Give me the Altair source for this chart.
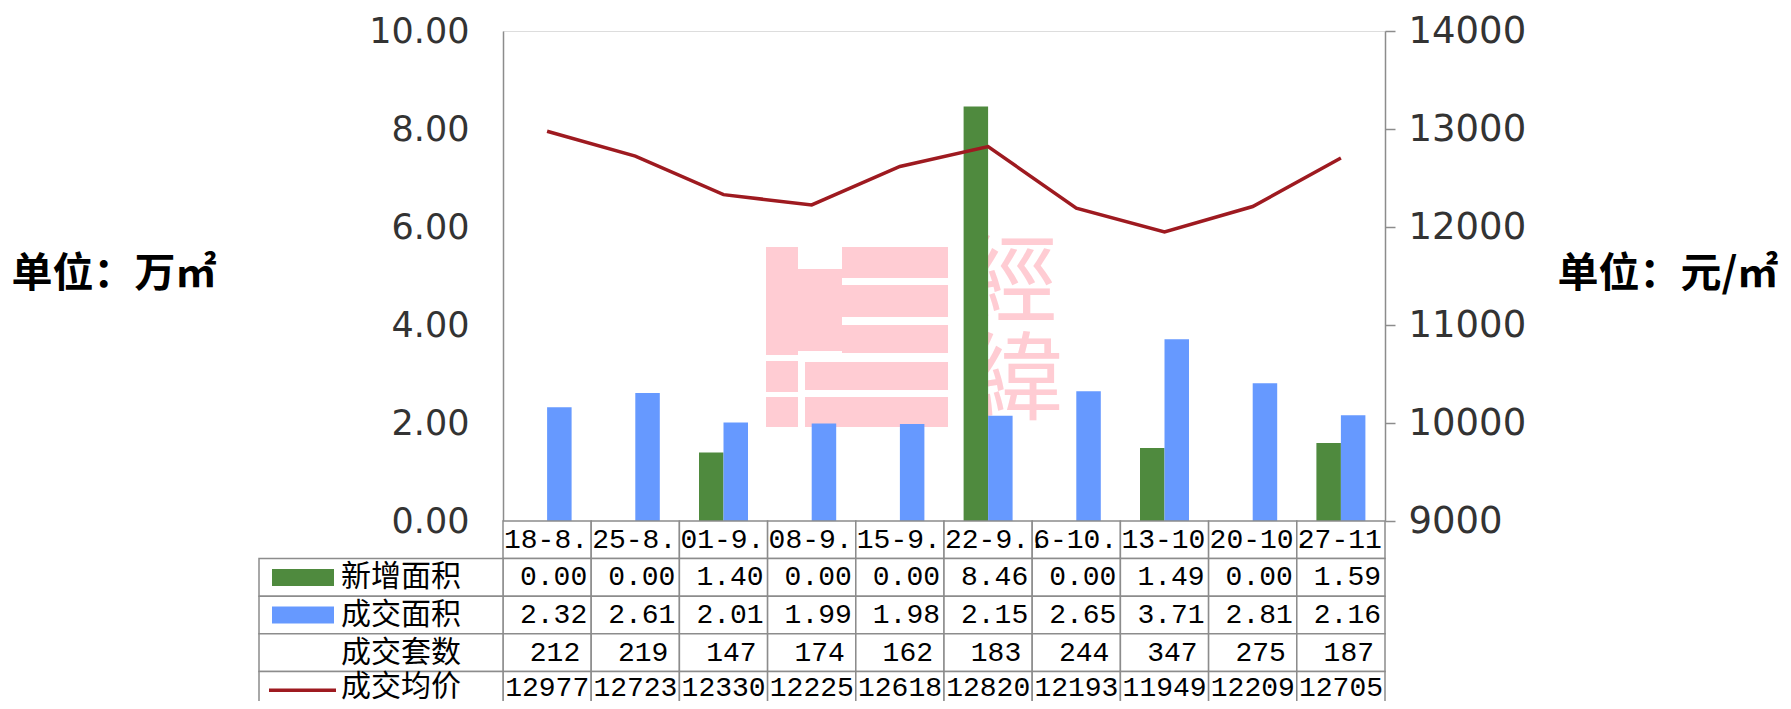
import altair as alt
import pandas as pd

# ---- data ----
cats = ["18-8.", "25-8.", "01-9.", "08-9.", "15-9.", "22-9..", "6-10.", "13-10", "20-10.", "27-11"]
new_area = [0.00, 0.00, 1.40, 0.00, 0.00, 8.46, 0.00, 1.49, 0.00, 1.59]
deal_area = [2.32, 2.61, 2.01, 1.99, 1.98, 2.15, 2.65, 3.71, 2.81, 2.16]
deal_units = [212, 219, 147, 174, 162, 183, 244, 347, 275, 187]
avg_price = [12977, 12723, 12330, 12225, 12618, 12820, 12193, 11949, 12209, 12705]
series_names = ["新增面积", "成交面积", "成交套数", "成交均价"]
left_ticks = [0, 2, 4, 6, 8, 10]
right_ticks = [9000, 10000, 11000, 12000, 13000, 14000]

GREEN = "#4F8A3E"
BLUE = "#6699FF"
RED = "#9E1A20"
GRID = "#8c8c8c"
PINK = "#FFCCD3"

W, H = 882, 490

# ---- tables ----
bars_df = pd.DataFrame(
    [{"cat": c, "series": series_names[0], "value": v} for c, v in zip(cats, new_area)]
    + [{"cat": c, "series": series_names[1], "value": v} for c, v in zip(cats, deal_area)]
)
line_df = pd.DataFrame({"cat": cats, "price": avg_price})

rows_all = ["cat"] + series_names
table_rows = []
for i, c in enumerate(cats):
    table_rows.append({"cat": c, "row": "cat", "txt": c})
    table_rows.append({"cat": c, "row": series_names[0], "txt": f"{new_area[i]:.2f}"})
    table_rows.append({"cat": c, "row": series_names[1], "txt": f"{deal_area[i]:.2f}"})
    table_rows.append({"cat": c, "row": series_names[2], "txt": str(deal_units[i])})
    table_rows.append({"cat": c, "row": series_names[3], "txt": str(avg_price[i])})
table_df = pd.DataFrame(table_rows)
legend_df = pd.DataFrame({"row": series_names})

band = alt.Scale(domain=cats, paddingInner=0, paddingOuter=0)
x_enc = alt.X("cat:N", sort=cats, scale=band, axis=None)

# ---- bars ----
bars = alt.Chart(bars_df).mark_bar().encode(
    x=x_enc,
    xOffset=alt.XOffset("series:N", sort=series_names[:2],
                        scale=alt.Scale(domain=series_names[:2], paddingInner=0, paddingOuter=0.8)),
    y=alt.Y("value:Q", scale=alt.Scale(domain=[0, 10], nice=False),
            axis=alt.Axis(orient="left", values=left_ticks, format=".2f",
                          labelFont="DejaVu Sans", labelFontSize=35, labelColor="#333333",
                          ticks=False, tickSize=0, labelPadding=34,
                          domainColor=GRID, domainWidth=1.5, grid=False,
                          title="单位：万㎡", titleAngle=0, titleFont="Noto Sans CJK SC",
                          titleFontSize=41, titleFontWeight="bold", titleColor="#000000",
                          titleAlign="left", titleBaseline="middle", titleX=-492, titleY=243)),
    color=alt.Color("series:N", scale=alt.Scale(domain=series_names[:2], range=[GREEN, BLUE]),
                    legend=None),
)

# ---- line ----
line = alt.Chart(line_df).mark_line(color=RED, strokeWidth=3.5).encode(
    x=x_enc,
    y=alt.Y("price:Q", scale=alt.Scale(domain=[9000, 14000], nice=False),
            axis=alt.Axis(orient="right", values=right_ticks, format="d",
                          labelFont="DejaVu Sans", labelFontSize=37, labelColor="#333333",
                          tickSize=10, tickColor=GRID, tickWidth=1.5, labelPadding=13,
                          domainColor=GRID, domainWidth=1.5, grid=False,
                          title="单位：元/㎡", titleAngle=0, titleFont="Noto Sans CJK SC",
                          titleFontSize=41, titleFontWeight="bold", titleColor="#000000",
                          titleAlign="left", titleBaseline="middle", titleX=172, titleY=243)),
)

# ---- data table under the plot ----
y_row = alt.Y("row:N", sort=rows_all,
              scale=alt.Scale(domain=rows_all, range=[H, H + 188], paddingInner=0, paddingOuter=0),
              axis=None)

base_t = alt.Chart(table_df)
cells = base_t.mark_rect(fill="white", stroke=GRID, strokeWidth=1.5).encode(x=x_enc, y=y_row)

leg_cells = alt.Chart(legend_df).mark_rect(fill="white", stroke=GRID, strokeWidth=1.5).encode(
    x=alt.value(-244), x2=alt.value(0), y=y_row)

mono = dict(font="Liberation Mono", fontSize=28, color="#000000", baseline="middle")
x_left = alt.X("cat:N", sort=cats, bandPosition=0, scale=band, axis=None)
x_right = alt.X("cat:N", sort=cats, bandPosition=1, scale=band, axis=None)

cat_txt = base_t.transform_filter(alt.datum.row == "cat").mark_text(
    align="left", dx=1, **mono).encode(x=x_left, y=y_row, text="txt:N")
area_txt = base_t.transform_filter(
    (alt.datum.row == series_names[0]) | (alt.datum.row == series_names[1])
).mark_text(align="right", dx=-4, **mono).encode(x=x_right, y=y_row, text="txt:N")
units_txt = base_t.transform_filter(alt.datum.row == series_names[2]).mark_text(
    align="right", dx=-11, **mono).encode(x=x_right, y=y_row, text="txt:N")
price_txt = base_t.transform_filter(alt.datum.row == series_names[3]).mark_text(
    align="right", dx=-2, dy=-2, font="Liberation Mono", fontSize=28, color="#000000",
    baseline="middle").encode(x=x_right, y=y_row, text="txt:N")

leg_txt = alt.Chart(legend_df).transform_filter(alt.datum.row != series_names[3]).mark_text(
    align="left", baseline="middle", font="Noto Sans CJK SC", fontSize=30, color="#000000"
).encode(x=alt.value(-162), y=y_row, text="row:N")
leg_txt_last = alt.Chart(legend_df).transform_filter(alt.datum.row == series_names[3]).mark_text(
    align="left", baseline="middle", font="Noto Sans CJK SC", fontSize=30, color="#000000", dy=-3
).encode(x=alt.value(-162), y=y_row, text="row:N")

swatch = alt.Chart(legend_df).transform_filter(
    (alt.datum.row == series_names[0]) | (alt.datum.row == series_names[1])
).mark_rule(strokeWidth=17, strokeCap="butt").encode(
    x=alt.value(-231), x2=alt.value(-169), y=y_row,
    color=alt.Color("row:N", scale=alt.Scale(domain=series_names[:2], range=[GREEN, BLUE]),
                    legend=None))
red_sw = alt.Chart(legend_df).transform_filter(alt.datum.row == series_names[3]).mark_rule(
    strokeWidth=3.5, color=RED, strokeCap="butt").encode(
    x=alt.value(-234), x2=alt.value(-167), y=y_row)

table = alt.layer(cells, leg_cells, cat_txt, area_txt, units_txt, price_txt,
                  leg_txt, leg_txt_last, swatch, red_sw)

# ---- pale watermark (decoration) ----
wm_txt1 = alt.Chart(pd.DataFrame({"ch": ["經"]})).mark_text(
    font="Noto Sans CJK TC", fontSize=96, color=PINK, align="center", baseline="middle"
).encode(x=alt.value(507), y=alt.value(254), text="ch:N")
wm_txt2 = alt.Chart(pd.DataFrame({"ch": ["緯"]})).mark_text(
    font="Noto Sans CJK TC", fontSize=96, color=PINK, align="center", baseline="middle"
).encode(x=alt.value(512), y=alt.value(352), text="ch:N")

logo_parts = [
    (263, 295, 216, 324), (263, 295, 330, 361), (263, 295, 366, 396),
    (339, 445, 216, 247), (339, 445, 254, 286), (339, 445, 294, 322),
    (302, 445, 331, 359), (302, 445, 366, 396), (295, 339, 238, 320),
]
logo_layers = [
    alt.Chart(pd.DataFrame({"k": [0]})).mark_rect(color=PINK).encode(
        x=alt.value(a), x2=alt.value(b), y=alt.value(c), y2=alt.value(d))
    for a, b, c, d in logo_parts
]

watermark = alt.layer(*logo_layers, wm_txt1, wm_txt2)

chart = alt.layer(watermark, bars, line, table).resolve_scale(
    y="independent", color="independent"
).properties(
    width=W, height=H,
    autosize=alt.AutoSizeParams(type="none"),
    padding={"left": 495, "top": 23, "right": 398, "bottom": 180},
).configure_view(stroke=None).configure(background="white")

chart.save("out.html", embed_options={"renderer": "svg", "actions": False})
